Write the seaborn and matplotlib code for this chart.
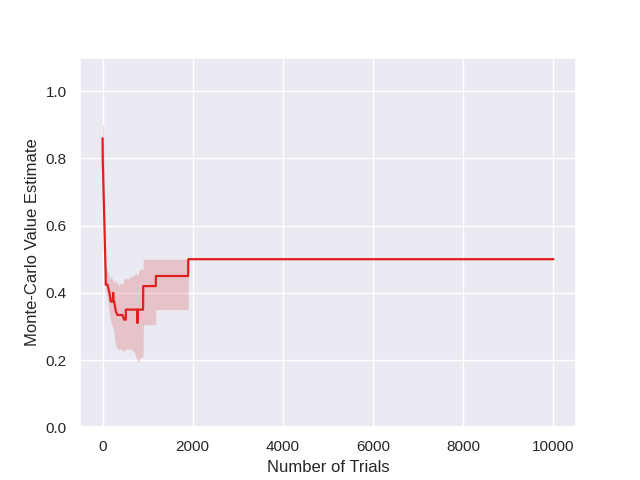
import numpy as np
import pandas as pd
import seaborn as sns
from matplotlib import pyplot as plt

# mean estimate (step-like)
trials = [1, 5, 67, 73, 111, 148, 185, 230, 237, 244, 259, 296, 333, 444, 481,
          515, 518, 770, 777, 784, 900, 903, 1181, 1184, 1899, 1902, 10000]
estimate = [0.86, 0.80, 0.47, 0.424, 0.424, 0.404, 0.374, 0.374, 0.40, 0.374, 0.374,
            0.344, 0.334, 0.334, 0.32, 0.32, 0.35, 0.35, 0.31, 0.35, 0.35, 0.42,
            0.42, 0.45, 0.45, 0.50, 0.50]

# confidence band
band_trials = [1, 20, 40, 67, 73, 100, 130, 160, 190, 220, 250, 280, 300, 330, 360,
               400, 440, 480, 520, 560, 600, 650, 700, 740, 780, 820, 860, 900,
               905, 1180, 1185, 1900, 1905, 10000]
band_upper = [0.90, 0.90, 0.75, 0.50, 0.478, 0.47, 0.46, 0.44, 0.45, 0.44, 0.43,
              0.44, 0.43, 0.43, 0.42, 0.43, 0.425, 0.44, 0.445, 0.44, 0.445, 0.45,
              0.45, 0.46, 0.45, 0.47, 0.47, 0.47, 0.50, 0.50, 0.50, 0.50, 0.50, 0.50]
band_lower = [0.80, 0.80, 0.65, 0.45, 0.40, 0.39, 0.36, 0.33, 0.31, 0.30, 0.29,
              0.25, 0.24, 0.235, 0.23, 0.235, 0.23, 0.225, 0.235, 0.23, 0.235, 0.23,
              0.225, 0.21, 0.195, 0.20, 0.21, 0.21, 0.305, 0.305, 0.35, 0.35, 0.50, 0.50]

sns.set_theme(style='darkgrid')
plt.rcParams['font.family'] = ['Liberation Sans', 'DejaVu Sans']

df = pd.DataFrame({'Number of Trials': trials, 'Monte-Carlo Value Estimate': estimate})

fig, ax = plt.subplots(figsize=(6.4, 4.8), dpi=100)
color = '#e0201f'
ax.fill_between(band_trials, band_lower, band_upper, color='#d62728', alpha=0.2, linewidth=0)
sns.lineplot(data=df, x='Number of Trials', y='Monte-Carlo Value Estimate',
             estimator=None, sort=False, color=color, linewidth=1.6, ax=ax)
ax.set_ylim(0, 1.1)
fig.savefig('out.png')
